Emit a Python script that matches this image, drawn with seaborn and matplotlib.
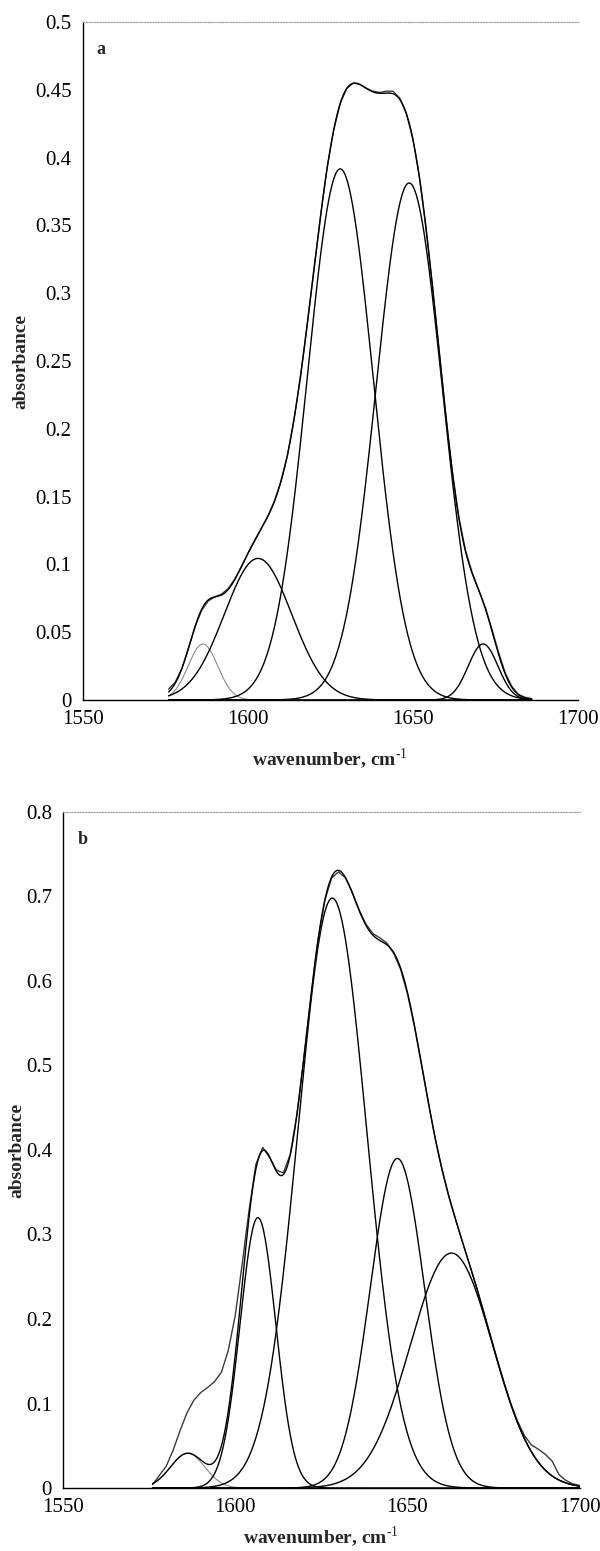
import numpy as np
import pandas as pd
import matplotlib
matplotlib.use("Agg")
import matplotlib.pyplot as plt
from matplotlib.ticker import FuncFormatter
import seaborn as sns

# ---- panel a: fitted amide-I band components (centre / cm-1, height, gaussian sigma)
a_centers = [1586.4, 1603.1, 1628.0, 1648.9, 1671.3]
a_heights = [0.0413, 0.1044, 0.3917, 0.3813, 0.0413]
a_sigmas = [4.5, 10.2, 10.0, 10.0, 4.5]
a_span = [1576, 1686]
# measured spectrum, every 2 cm-1 from 1576 to 1686
a_measured = [0.008, 0.013, 0.023, 0.038, 0.054, 0.066, 0.073, 0.076, 0.078, 0.082,
              0.089, 0.098, 0.108, 0.117, 0.126, 0.135, 0.146, 0.161, 0.180, 0.207,
              0.239, 0.277, 0.317, 0.356, 0.392, 0.420, 0.440, 0.451, 0.455, 0.454,
              0.451, 0.449, 0.448, 0.449, 0.449, 0.444, 0.433, 0.414, 0.386, 0.348,
              0.304, 0.257, 0.210, 0.168, 0.134, 0.110, 0.094, 0.081, 0.068, 0.052,
              0.035, 0.020, 0.010, 0.004, 0.002, 0.001]

# ---- panel b
b_centers = [1586.2, 1606.6, 1628.2, 1647.1, 1662.8]
b_heights = [0.041, 0.320, 0.698, 0.390, 0.278]
b_sigmas = [5.0, 5.2, 10.0, 7.9, 12.0]
b_span = [1576, 1700]
# measured spectrum, every 2 cm-1 from 1576 to 1700
b_measured = [0.004, 0.015, 0.026, 0.045, 0.068, 0.089, 0.104, 0.113, 0.119, 0.126,
              0.137, 0.163, 0.204, 0.264, 0.328, 0.383, 0.403, 0.391, 0.376, 0.373,
              0.395, 0.444, 0.511, 0.582, 0.647, 0.695, 0.722, 0.729, 0.722, 0.705,
              0.684, 0.667, 0.656, 0.651, 0.645, 0.633, 0.614, 0.585, 0.547, 0.503,
              0.458, 0.415, 0.378, 0.346, 0.318, 0.291, 0.265, 0.239, 0.211, 0.182,
              0.153, 0.126, 0.100, 0.079, 0.062, 0.051, 0.046, 0.040, 0.032, 0.016,
              0.009, 0.005, 0.003]

x_ticks = [1550, 1600, 1650, 1700]
a_yticks = [0, 0.05, 0.1, 0.15, 0.2, 0.25, 0.3, 0.35, 0.4, 0.45, 0.5]
b_yticks = [0, 0.1, 0.2, 0.3, 0.4, 0.5, 0.6, 0.7, 0.8]

sns.set_theme(style="white")
plt.rcParams["font.family"] = ["Liberation Serif", "DejaVu Serif"]
plt.rcParams["mathtext.fontset"] = "custom"
plt.rcParams["mathtext.rm"] = "Liberation Serif"
plt.rcParams["mathtext.bf"] = "Liberation Serif:bold"


def band(x, c, h, s):
    return h * np.exp(-((x - c) ** 2) / (2.0 * s ** 2))


def fmt(v, _pos):
    return f"{v:g}"


def draw_panel(ax, centers, heights, sigmas, span, measured, yticks, letter,
               xpad, ypad):
    xs = np.arange(span[0], span[1] + 0.001, 0.25)
    comps = [band(xs, c, h, s) for c, h, s in zip(centers, heights, sigmas)]
    for i, comp in enumerate(comps):
        col = "#8a8a8a" if i == 0 else "black"
        lw = 0.8 if i == 0 else 1.0
        sns.lineplot(x=xs, y=comp, ax=ax, color=col, lw=lw)
    # measured trace underneath, fitted envelope on top
    xm = np.arange(span[0], span[1] + 0.001, 2.0)
    sns.lineplot(x=xm, y=np.array(measured), ax=ax, color="#3a3a3a", lw=1.0)
    sns.lineplot(x=xs, y=np.sum(comps, axis=0), ax=ax, color="black", lw=1.0)

    ax.set_xlim(x_ticks[0], x_ticks[-1])
    ax.set_ylim(yticks[0], yticks[-1])
    ax.set_xticks(x_ticks)
    ax.set_yticks(yticks)
    ax.yaxis.set_major_formatter(FuncFormatter(fmt))
    ax.tick_params(axis="both", direction="out", length=4, width=0.9,
                   labelsize=15, colors="black", pad=4)
    ax.tick_params(axis="x", length=3)
    for side in ("left", "bottom"):
        ax.spines[side].set_color("black")
        ax.spines[side].set_linewidth(1.0)
    ax.spines["right"].set_visible(False)
    ax.spines["top"].set_color("#9a9a9a")
    ax.spines["top"].set_linestyle((0, (1, 1.5)))
    ax.spines["top"].set_linewidth(0.8)
    ax.set_ylabel("absorbance", fontsize=14, fontweight="bold", labelpad=ypad)
    ax.set_xlabel(r"wavenumber, cm$^{\text{-1}}$", fontsize=14,
                  fontweight="bold", labelpad=xpad)
    ax.text(0.028, 0.972, letter, transform=ax.transAxes, fontsize=13,
            fontweight="bold", va="top", ha="left")


fig = plt.figure(figsize=(6.0, 15.51), dpi=100)
ax_a = fig.add_axes([0.138, 0.5487, 0.825, 0.4371])
ax_b = fig.add_axes([0.105, 0.0406, 0.861, 0.4359])

draw_panel(ax_a, a_centers, a_heights, a_sigmas, a_span, a_measured, a_yticks,
           "a", 13, 4)
draw_panel(ax_b, b_centers, b_heights, b_sigmas, b_span, b_measured, b_yticks,
           "b", 6, 0)

fig.savefig("out.png", dpi=100, facecolor="white")
